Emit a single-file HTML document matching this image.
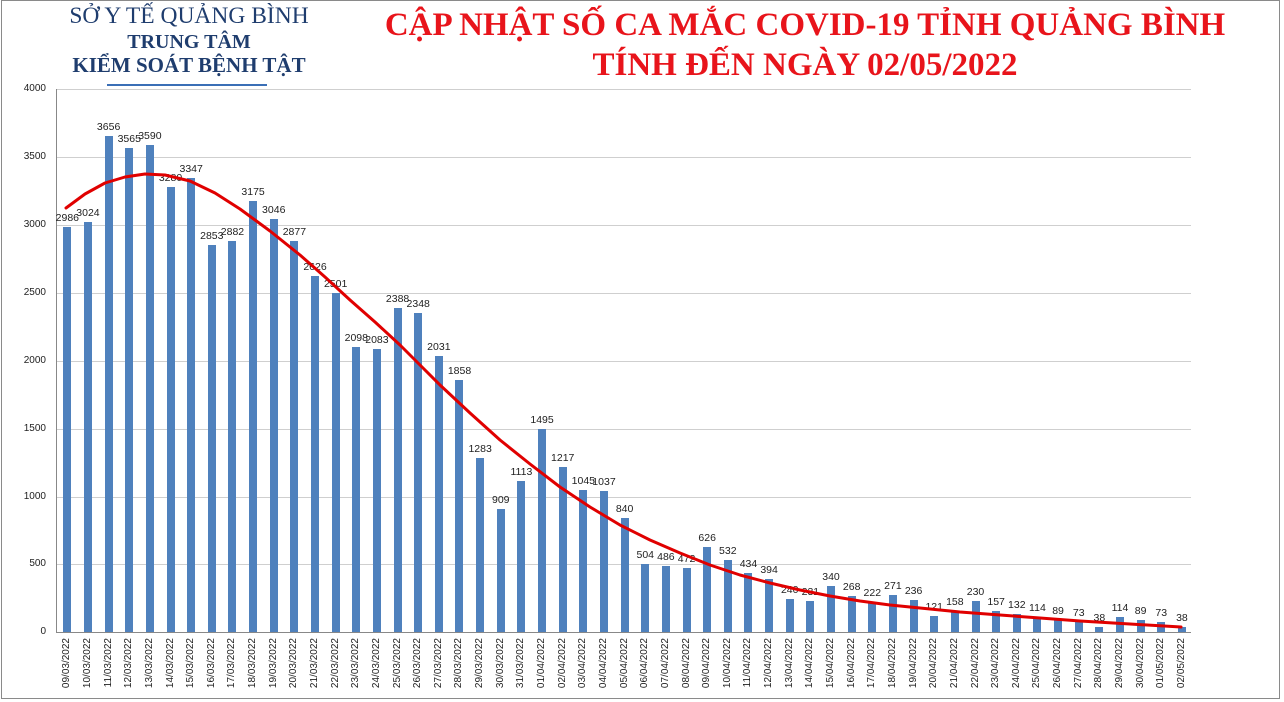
<!DOCTYPE html>
<html><head><meta charset="utf-8"><style>
body{margin:0;width:1284px;height:702px;background:#fff;position:relative;overflow:hidden;font-family:"Liberation Sans","DejaVu Sans",sans-serif}
.frame{position:absolute;left:1px;top:0;width:1277px;height:697px;border:1px solid #8a8a8a}
.h{position:absolute;font-family:"Liberation Serif",serif;color:#1f3d6e;text-align:center;white-space:nowrap}
.t{position:absolute;font-family:"Liberation Serif",serif;color:#e8141b;font-weight:bold;font-size:33px;white-space:nowrap;text-align:center;left:360px;width:890px}
.plot{position:absolute;left:56px;top:89px;width:1135px;height:543px;border-left:1px solid #888;display:flex}
.g{position:absolute;left:56px;width:1135px;height:1px;background:#cfcfcf}
.yl{position:absolute;left:0;width:46px;text-align:right;font-size:10px;color:#222}
.c{flex:1;position:relative}
.c i{position:absolute;bottom:0;left:50%;margin-left:-4px;width:8px;height:calc(var(--v)*0.13575px);background:#4f81bd}
.c span{position:absolute;left:-10px;right:-10px;text-align:center;font-size:10.5px;color:#222;bottom:calc(var(--v)*0.13575px + 3px)}
.c b{position:absolute;top:549px;left:50%;margin-left:-6px;font-weight:normal;font-size:10px;color:#222;writing-mode:vertical-rl;transform:rotate(180deg)}
</style></head><body>
<div class="frame"></div>
<div class="h" style="left:39px;width:300px;top:3px;font-size:23.5px">SỞ Y TẾ QUẢNG BÌNH</div>
<div class="h" style="left:39px;width:300px;top:31px;font-size:20px;font-weight:bold">TRUNG TÂM</div>
<div class="h" style="left:39px;width:300px;top:53px;font-size:21px;font-weight:bold">KIỂM SOÁT BỆNH TẬT</div>
<div style="position:absolute;left:107px;top:84px;width:160px;height:2px;background:#3b6fb6"></div>
<div class="t" style="top:7px">CẬP NHẬT SỐ CA MẮC COVID-19 TỈNH QUẢNG BÌNH</div>
<div class="t" style="top:47px">TÍNH ĐẾN NGÀY 02/05/2022</div>
<div class="g" style="top:89px"></div><div class="g" style="top:157px"></div><div class="g" style="top:225px"></div><div class="g" style="top:293px"></div><div class="g" style="top:361px"></div><div class="g" style="top:429px"></div><div class="g" style="top:497px"></div><div class="g" style="top:564px"></div><div class="g" style="top:632px;background:#888"></div>
<div class="yl" style="top:83px">4000</div><div class="yl" style="top:151px">3500</div><div class="yl" style="top:219px">3000</div><div class="yl" style="top:287px">2500</div><div class="yl" style="top:355px">2000</div><div class="yl" style="top:423px">1500</div><div class="yl" style="top:491px">1000</div><div class="yl" style="top:558px">500</div><div class="yl" style="top:626px">0</div>
<div class="plot">
<div class="c" style="--v:2986"><i></i><span>2986</span><b>09/03/2022</b></div>
<div class="c" style="--v:3024"><i></i><span>3024</span><b>10/03/2022</b></div>
<div class="c" style="--v:3656"><i></i><span>3656</span><b>11/03/2022</b></div>
<div class="c" style="--v:3565"><i></i><span>3565</span><b>12/03/2022</b></div>
<div class="c" style="--v:3590"><i></i><span>3590</span><b>13/03/2022</b></div>
<div class="c" style="--v:3280"><i></i><span>3280</span><b>14/03/2022</b></div>
<div class="c" style="--v:3347"><i></i><span>3347</span><b>15/03/2022</b></div>
<div class="c" style="--v:2853"><i></i><span>2853</span><b>16/03/2022</b></div>
<div class="c" style="--v:2882"><i></i><span>2882</span><b>17/03/2022</b></div>
<div class="c" style="--v:3175"><i></i><span>3175</span><b>18/03/2022</b></div>
<div class="c" style="--v:3046"><i></i><span>3046</span><b>19/03/2022</b></div>
<div class="c" style="--v:2877"><i></i><span>2877</span><b>20/03/2022</b></div>
<div class="c" style="--v:2626"><i></i><span>2626</span><b>21/03/2022</b></div>
<div class="c" style="--v:2501"><i></i><span>2501</span><b>22/03/2022</b></div>
<div class="c" style="--v:2098"><i></i><span>2098</span><b>23/03/2022</b></div>
<div class="c" style="--v:2083"><i></i><span>2083</span><b>24/03/2022</b></div>
<div class="c" style="--v:2388"><i></i><span>2388</span><b>25/03/2022</b></div>
<div class="c" style="--v:2348"><i></i><span>2348</span><b>26/03/2022</b></div>
<div class="c" style="--v:2031"><i></i><span>2031</span><b>27/03/2022</b></div>
<div class="c" style="--v:1858"><i></i><span>1858</span><b>28/03/2022</b></div>
<div class="c" style="--v:1283"><i></i><span>1283</span><b>29/03/2022</b></div>
<div class="c" style="--v:909"><i></i><span>909</span><b>30/03/2022</b></div>
<div class="c" style="--v:1113"><i></i><span>1113</span><b>31/03/2022</b></div>
<div class="c" style="--v:1495"><i></i><span>1495</span><b>01/04/2022</b></div>
<div class="c" style="--v:1217"><i></i><span>1217</span><b>02/04/2022</b></div>
<div class="c" style="--v:1045"><i></i><span>1045</span><b>03/04/2022</b></div>
<div class="c" style="--v:1037"><i></i><span>1037</span><b>04/04/2022</b></div>
<div class="c" style="--v:840"><i></i><span>840</span><b>05/04/2022</b></div>
<div class="c" style="--v:504"><i></i><span>504</span><b>06/04/2022</b></div>
<div class="c" style="--v:486"><i></i><span>486</span><b>07/04/2022</b></div>
<div class="c" style="--v:472"><i></i><span>472</span><b>08/04/2022</b></div>
<div class="c" style="--v:626"><i></i><span>626</span><b>09/04/2022</b></div>
<div class="c" style="--v:532"><i></i><span>532</span><b>10/04/2022</b></div>
<div class="c" style="--v:434"><i></i><span>434</span><b>11/04/2022</b></div>
<div class="c" style="--v:394"><i></i><span>394</span><b>12/04/2022</b></div>
<div class="c" style="--v:240"><i></i><span>240</span><b>13/04/2022</b></div>
<div class="c" style="--v:231"><i></i><span>231</span><b>14/04/2022</b></div>
<div class="c" style="--v:340"><i></i><span>340</span><b>15/04/2022</b></div>
<div class="c" style="--v:268"><i></i><span>268</span><b>16/04/2022</b></div>
<div class="c" style="--v:222"><i></i><span>222</span><b>17/04/2022</b></div>
<div class="c" style="--v:271"><i></i><span>271</span><b>18/04/2022</b></div>
<div class="c" style="--v:236"><i></i><span>236</span><b>19/04/2022</b></div>
<div class="c" style="--v:121"><i></i><span>121</span><b>20/04/2022</b></div>
<div class="c" style="--v:158"><i></i><span>158</span><b>21/04/2022</b></div>
<div class="c" style="--v:230"><i></i><span>230</span><b>22/04/2022</b></div>
<div class="c" style="--v:157"><i></i><span>157</span><b>23/04/2022</b></div>
<div class="c" style="--v:132"><i></i><span>132</span><b>24/04/2022</b></div>
<div class="c" style="--v:114"><i></i><span>114</span><b>25/04/2022</b></div>
<div class="c" style="--v:89"><i></i><span>89</span><b>26/04/2022</b></div>
<div class="c" style="--v:73"><i></i><span>73</span><b>27/04/2022</b></div>
<div class="c" style="--v:38"><i></i><span>38</span><b>28/04/2022</b></div>
<div class="c" style="--v:114"><i></i><span>114</span><b>29/04/2022</b></div>
<div class="c" style="--v:89"><i></i><span>89</span><b>30/04/2022</b></div>
<div class="c" style="--v:73"><i></i><span>73</span><b>01/05/2022</b></div>
<div class="c" style="--v:38"><i></i><span>38</span><b>02/05/2022</b></div>
</div>
<svg style="position:absolute;left:0;top:0" width="1284" height="702"><polyline fill="none" stroke="#e00000" stroke-width="3" stroke-linejoin="round" stroke-linecap="round" points="66,208 85,194 105,183 125,177 145,174 165,175 190,181 215,193 240,209 270,231 300,255 325,277 350,300 375,322 400,345 420,365 440,385 470,413 500,440 530,464 560,487 590,507 620,525 650,540 680,553 710,565 740,575 770,583 800,590 830,596 860,601 890,605 920,608 960,612 1000,615 1040,618 1080,621 1130,624 1181,627"/></svg>
</body></html>
